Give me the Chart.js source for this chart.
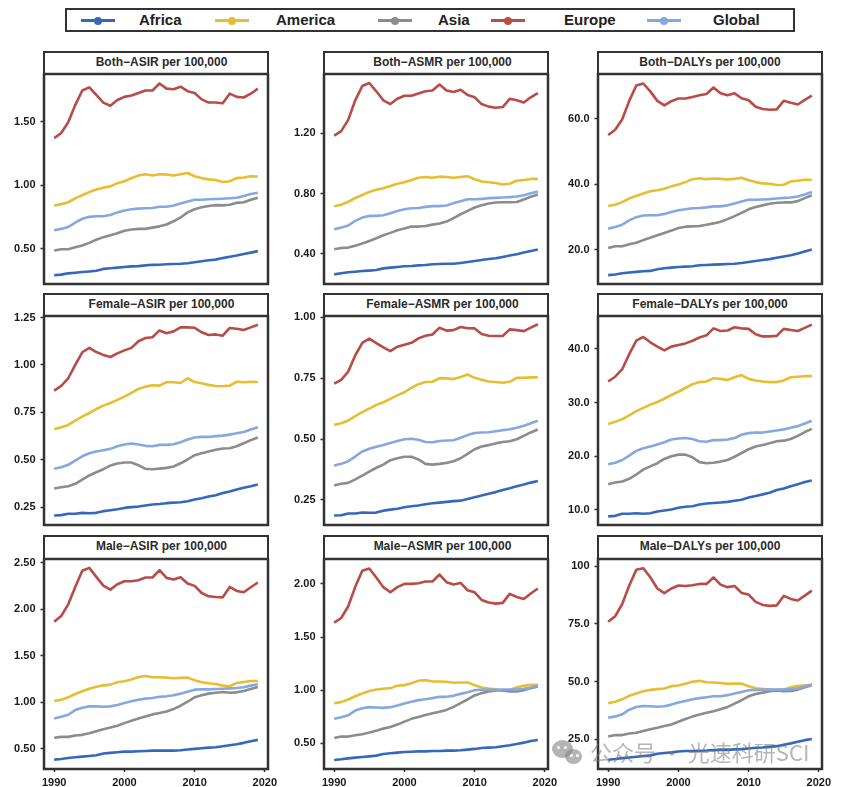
<!DOCTYPE html>
<html>
<head>
<meta charset="utf-8">
<title>Rates per 100,000 by region</title>
<script src="https://cdn.jsdelivr.net/npm/chart.js@4/dist/chart.umd.min.js"></script>
<style>
  html, body { margin: 0; padding: 0; background: #fff; overflow: hidden; }
  body { position: relative; width: 842px; height: 787px; font-family: "Liberation Sans", Arial, sans-serif; }
  canvas { position: absolute; }
  .strip { position: absolute; box-sizing: border-box; background: #fff; border: 2.5px solid #333; color: #2b2b2b;
           font-size: 12px; font-weight: bold; line-height: 18px; text-align: center; white-space: nowrap; }
  #legendBox { position: absolute; left: 65px; top: 8px; width: 730px; height: 24px; box-sizing: border-box; border: 2.5px solid #333; }
  .legendLine { position: absolute; top: 19px; width: 34px; height: 3px; }
  .legendDot { position: absolute; top: 16.5px; width: 8px; height: 8px; border-radius: 50%; }
  .legendText { position: absolute; top: 11px; font-size: 15px; font-weight: bold; line-height: 18px; color: #222; white-space: nowrap; }
  #mark { position: absolute; left: 590px; top: 738px; font-size: 22px; line-height: 27px; color: rgba(120,120,120,0.55); white-space: nowrap;
          font-family: "Noto Sans CJK SC", sans-serif; }
  .bubble { position: absolute; border-radius: 50%; background: rgba(130,130,130,0.6); }
  .eye { position: absolute; width: 3px; height: 3px; border-radius: 50%; background: #fff; }
</style>
</head>
<body>
<script>
// ===== DATA =====
const years = [1990,1991,1992,1993,1994,1995,1996,1997,1998,1999,2000,2001,2002,2003,2004,2005,2006,2007,2008,2009,2010,2011,2012,2013,2014,2015,2016,2017,2018,2019];
const seriesNames = ["Africa", "America", "Asia", "Europe", "Global"];
const xTicks = [1990, 2000, 2010, 2020];
const panelTitles = [
  "Both\u2212ASIR per 100,000", "Both\u2212ASMR per 100,000", "Both\u2212DALYs per 100,000",
  "Female\u2212ASIR per 100,000", "Female\u2212ASMR per 100,000", "Female\u2212DALYs per 100,000",
  "Male\u2212ASIR per 100,000", "Male\u2212ASMR per 100,000", "Male\u2212DALYs per 100,000"
];

// tick labels per panel
const bothAsirTicks = ["0.50", "1.00", "1.50"];
const bothAsmrTicks = ["0.40", "0.80", "1.20"];
const bothDalysTicks = ["20.0", "40.0", "60.0"];
const femaleAsirTicks = ["0.25", "0.50", "0.75", "1.00", "1.25"];
const femaleAsmrTicks = ["0.25", "0.50", "0.75", "1.00"];
const femaleDalysTicks = ["10.0", "20.0", "30.0", "40.0"];
const maleAsirTicks = ["0.50", "1.00", "1.50", "2.00", "2.50"];
const maleAsmrTicks = ["0.50", "1.00", "1.50", "2.00"];
const maleDalysTicks = ["25.0", "50.0", "75.0", "100"];

// y ranges per panel
const yMins = [0.221, 0.198, 9.6, 0.157, 0.147, 7.2, 0.284, 0.258, 12.1];
const yMaxs = [1.875, 1.595, 73.7, 1.258, 1.005, 46.1, 2.541, 2.234, 103.1];

// Both - ASIR
const bothAsirAfrica = [.29,.295,.305,.31,.315,.32,.325,.34,.345,.35,.355,.36,.362,.368,.372,.373,.377,.378,.38,.385,.393,.40,.408,.413,.425,.435,.445,.458,.468,.48];
const bothAsirAmerica = [.84,.85,.865,.895,.92,.945,.965,.98,.99,1.015,1.03,1.055,1.075,1.085,1.075,1.085,1.083,1.075,1.085,1.095,1.07,1.055,1.045,1.04,1.025,1.03,1.055,1.06,1.07,1.068];
const bothAsirAsia = [.485,.495,.495,.51,.525,.545,.57,.59,.605,.62,.64,.65,.655,.655,.665,.675,.69,.715,.745,.785,.81,.825,.835,.842,.84,.845,.86,.865,.885,.90];
const bothAsirEurope = [1.37,1.41,1.495,1.63,1.745,1.77,1.71,1.65,1.625,1.67,1.695,1.705,1.725,1.745,1.745,1.80,1.76,1.755,1.775,1.74,1.725,1.675,1.65,1.65,1.645,1.72,1.695,1.69,1.72,1.76];
const bothAsirGlobal = [.645,.655,.67,.705,.735,.75,.755,.755,.765,.785,.80,.81,.815,.818,.82,.83,.83,.84,.855,.87,.885,.885,.888,.89,.893,.897,.90,.915,.93,.94];

// Both - ASMR
const bothAsmrAfrica = [.262,.269,.276,.28,.284,.287,.291,.302,.307,.311,.316,.318,.322,.324,.329,.331,.333,.333,.338,.344,.351,.358,.364,.369,.378,.387,.396,.407,.418,.427];
const bothAsmrAmerica = [.715,.725,.745,.77,.79,.81,.825,.835,.85,.865,.875,.89,.905,.91,.905,.912,.91,.905,.91,.915,.895,.88,.875,.87,.86,.865,.885,.89,.897,.897];
const bothAsmrAsia = [.429,.438,.44,.453,.467,.484,.502,.522,.538,.556,.567,.58,.58,.584,.593,.60,.613,.636,.662,.684,.707,.722,.733,.74,.742,.742,.744,.76,.778,.793];
const bothAsmrEurope = [1.185,1.215,1.29,1.42,1.515,1.535,1.48,1.42,1.395,1.43,1.45,1.45,1.465,1.48,1.485,1.525,1.485,1.475,1.49,1.455,1.44,1.395,1.378,1.37,1.375,1.43,1.42,1.405,1.44,1.467];
const bothAsmrGlobal = [.562,.573,.587,.618,.64,.651,.651,.655,.669,.684,.695,.702,.704,.711,.716,.716,.72,.736,.749,.762,.762,.764,.769,.771,.773,.776,.78,.789,.802,.813];

// Both - DALYs
const bothDalysAfrica = [12.3,12.5,12.9,13.1,13.3,13.5,13.6,14.1,14.4,14.6,14.8,14.9,15,15.3,15.4,15.5,15.6,15.7,15.8,16,16.3,16.6,16.9,17.2,17.6,18,18.4,18.9,19.5,20.1];
const bothDalysAmerica = [33.4,33.8,34.6,35.7,36.5,37.2,37.9,38.2,38.7,39.4,40,40.7,41.6,41.9,41.6,41.8,41.7,41.5,41.7,42,41.3,40.7,40.3,40.2,39.8,39.9,40.9,41.1,41.4,41.4];
const bothDalysAsia = [20.6,21.1,21.1,21.7,22.2,23,23.7,24.5,25.2,25.9,26.7,27.1,27.2,27.3,27.7,28.1,28.6,29.4,30.3,31.3,32.4,33.1,33.6,34.1,34.4,34.5,34.5,34.9,35.8,36.7];
const bothDalysEurope = [55.1,56.7,59.9,65.5,70.2,70.8,68.4,65.5,64.1,65.4,66.2,66.2,66.7,67.2,67.6,69.6,67.8,67.2,67.8,66.3,65.7,63.7,63,62.8,62.9,65.5,64.9,64.4,65.8,67.1];
const bothDalysGlobal = [26.5,27,27.7,29,30,30.5,30.6,30.6,31,31.6,32.1,32.4,32.7,32.8,33,33.3,33.3,33.6,34.2,34.8,35.3,35.3,35.4,35.5,35.7,35.9,36,36.3,36.9,37.7];

// Female - ASIR
const femaleAsirAfrica = [.207,.209,.216,.216,.221,.219,.221,.23,.235,.24,.247,.251,.254,.26,.265,.268,.272,.275,.277,.282,.291,.298,.307,.314,.325,.333,.344,.353,.361,.37];
const femaleAsirAmerica = [.661,.672,.684,.707,.728,.747,.768,.786,.80,.816,.833,.853,.874,.886,.893,.891,.909,.909,.905,.93,.91,.904,.895,.889,.888,.891,.912,.909,.912,.91];
const femaleAsirAsia = [.349,.356,.361,.374,.396,.418,.435,.451,.47,.481,.486,.486,.472,.453,.451,.454,.458,.465,.482,.502,.525,.535,.544,.553,.56,.561,.572,.588,.604,.618];
const femaleAsirEurope = [.865,.89,.93,1.0,1.067,1.09,1.068,1.053,1.042,1.061,1.077,1.09,1.125,1.142,1.146,1.182,1.167,1.177,1.198,1.198,1.196,1.172,1.158,1.161,1.154,1.195,1.191,1.184,1.198,1.212];
const femaleAsirGlobal = [.453,.461,.474,.496,.519,.535,.544,.551,.558,.572,.581,.586,.581,.574,.572,.579,.579,.582,.593,.607,.618,.621,.621,.625,.628,.633,.64,.647,.66,.672];

// Female - ASMR
const femaleAsmrAfrica = [.186,.187,.194,.194,.198,.197,.198,.206,.21,.214,.22,.224,.227,.232,.236,.239,.242,.245,.247,.254,.261,.268,.275,.282,.291,.298,.306,.313,.321,.328];
const femaleAsmrAmerica = [.558,.565,.576,.594,.61,.625,.64,.651,.665,.679,.692,.71,.725,.734,.735,.75,.749,.746,.755,.765,.751,.743,.736,.734,.731,.735,.751,.751,.753,.753];
const femaleAsmrAsia = [.309,.316,.32,.334,.35,.366,.382,.395,.413,.421,.427,.427,.416,.398,.395,.398,.402,.409,.421,.439,.458,.469,.475,.482,.488,.491,.499,.513,.527,.539];
const femaleAsmrEurope = [.727,.743,.777,.843,.895,.912,.894,.876,.861,.879,.887,.895,.913,.924,.929,.957,.945,.947,.96,.955,.954,.931,.924,.923,.923,.95,.947,.943,.957,.971];
const femaleAsmrGlobal = [.391,.398,.409,.428,.449,.46,.468,.475,.484,.492,.499,.501,.497,.488,.487,.492,.494,.495,.505,.516,.525,.527,.528,.532,.536,.54,.546,.554,.565,.575];

// Female - DALYs
const femaleDalysAfrica = [8.8,8.9,9.3,9.3,9.4,9.3,9.4,9.7,9.9,10.1,10.4,10.6,10.7,11,11.2,11.3,11.4,11.5,11.7,11.9,12.3,12.6,12.9,13.2,13.7,14,14.4,14.8,15.2,15.5];
const femaleDalysAmerica = [26,26.4,26.9,27.6,28.4,29,29.6,30.1,30.7,31.4,32,32.7,33.4,33.8,33.9,34.5,34.4,34.2,34.7,35.1,34.4,34.1,33.9,33.8,33.8,34.1,34.7,34.8,34.9,34.9];
const femaleDalysAsia = [14.8,15.1,15.3,15.8,16.6,17.5,18.1,18.7,19.5,20,20.3,20.3,19.8,18.9,18.7,18.8,19,19.3,19.9,20.6,21.3,21.8,22.1,22.4,22.8,22.9,23.2,23.8,24.5,25.1];
const femaleDalysEurope = [33.9,34.8,36.2,39,41.5,42.2,41.2,40.4,39.7,40.4,40.7,41,41.5,42.1,42.5,43.8,43.3,43.4,44,43.8,43.7,42.7,42.3,42.3,42.4,43.7,43.5,43.3,43.9,44.5];
const femaleDalysGlobal = [18.5,18.8,19.3,20.1,21,21.5,21.8,22.2,22.6,23.1,23.3,23.4,23.2,22.8,22.7,23,23,23.1,23.4,24,24.3,24.4,24.4,24.6,24.8,25,25.3,25.6,26.1,26.6];

// Male - ASIR
const maleAsirAfrica = [.385,.392,.403,.41,.417,.424,.432,.45,.457,.464,.471,.471,.475,.478,.482,.482,.482,.482,.486,.493,.50,.507,.514,.518,.529,.54,.55,.565,.583,.597];
const maleAsirAmerica = [1.014,1.029,1.054,1.09,1.119,1.147,1.169,1.183,1.191,1.216,1.227,1.245,1.273,1.284,1.27,1.27,1.266,1.259,1.263,1.266,1.237,1.216,1.205,1.198,1.18,1.173,1.209,1.219,1.23,1.23];
const maleAsirAsia = [.619,.629,.629,.644,.651,.669,.691,.712,.73,.748,.777,.802,.827,.849,.871,.885,.903,.928,.964,1.007,1.054,1.076,1.094,1.104,1.112,1.104,1.108,1.122,1.144,1.165];
const maleAsirEurope = [1.867,1.928,2.054,2.241,2.414,2.446,2.349,2.255,2.212,2.27,2.302,2.302,2.313,2.342,2.342,2.421,2.338,2.32,2.345,2.277,2.252,2.176,2.14,2.133,2.129,2.241,2.198,2.183,2.237,2.288];
const maleAsirGlobal = [.827,.845,.867,.917,.942,.957,.957,.953,.957,.971,.993,1.011,1.029,1.04,1.047,1.061,1.065,1.076,1.094,1.115,1.137,1.14,1.14,1.144,1.147,1.151,1.155,1.162,1.18,1.194];

// Male - ASMR
const maleAsmrAfrica = [.343,.349,.358,.365,.371,.377,.384,.399,.406,.412,.418,.421,.424,.424,.428,.428,.431,.431,.434,.44,.447,.456,.459,.462,.472,.481,.494,.506,.522,.531];
const maleAsmrAmerica = [.877,.887,.912,.943,.969,.991,1.006,1.013,1.019,1.041,1.047,1.066,1.088,1.094,1.082,1.082,1.079,1.069,1.072,1.072,1.047,1.025,1.016,1.009,.997,1.0,1.028,1.041,1.05,1.05];
const maleAsmrAsia = [.55,.563,.563,.575,.585,.601,.619,.638,.654,.676,.704,.73,.748,.767,.783,.796,.814,.843,.877,.912,.95,.972,.987,.997,.997,.987,.987,1.0,1.019,1.035];
const maleAsmrEurope = [1.635,1.679,1.789,1.972,2.123,2.145,2.06,1.969,1.921,1.969,2.0,2.0,2.006,2.022,2.022,2.088,2.016,1.994,2.009,1.94,1.921,1.849,1.824,1.814,1.821,1.906,1.877,1.858,1.909,1.956];
const maleAsmrGlobal = [.73,.745,.764,.808,.83,.84,.836,.833,.84,.855,.874,.89,.906,.915,.925,.937,.937,.947,.965,.981,1.0,1.003,1.003,1.003,1.006,1.006,1.006,1.013,1.025,1.041];

// Male - DALYs
const maleDalysAfrica = [16.1,16.4,16.8,17.1,17.4,17.7,18,18.7,19,19.3,19.7,19.9,19.9,20,20.1,20.3,20.4,20.4,20.6,20.7,21,21.3,21.4,21.7,22,22.6,23.2,23.9,24.6,25.1];
const maleDalysAmerica = [40.6,41.2,42.3,43.8,44.8,45.8,46.4,46.7,47,48,48.3,49,49.9,50.3,49.7,49.6,49.4,49,49.1,49.1,48,47.1,46.8,46.5,46.4,46.5,47.5,48,48.4,48.6];
const maleDalysAsia = [26.2,26.8,26.8,27.5,27.8,28.6,29.3,30,30.7,31.4,32.6,33.8,34.8,35.7,36.5,37.1,38,39,40.4,41.9,43.6,44.6,45.2,45.8,46.1,45.8,45.9,46.5,47.5,48.4];
const maleDalysEurope = [75.9,78.3,83.6,91.6,98.4,99.1,95.2,90.3,88.3,90.3,91.6,91.4,91.7,92.3,92.3,95.1,92,90.9,91.4,88.4,87.7,84.5,83.2,82.8,83,87.1,85.8,85.1,87.2,89.4];
const maleDalysGlobal = [34.3,34.9,35.8,37.8,39,39.4,39.3,39.1,39.3,40,40.9,41.6,42.3,42.8,43.2,43.6,43.6,44.1,44.8,45.5,46.2,46.4,46.4,46.5,46.5,46.5,46.7,47.1,47.8,48.6];

const panelTicks = [bothAsirTicks, bothAsmrTicks, bothDalysTicks, femaleAsirTicks, femaleAsmrTicks, femaleDalysTicks, maleAsirTicks, maleAsmrTicks, maleDalysTicks];
const panelSeries = [
  [bothAsirAfrica, bothAsirAmerica, bothAsirAsia, bothAsirEurope, bothAsirGlobal],
  [bothAsmrAfrica, bothAsmrAmerica, bothAsmrAsia, bothAsmrEurope, bothAsmrGlobal],
  [bothDalysAfrica, bothDalysAmerica, bothDalysAsia, bothDalysEurope, bothDalysGlobal],
  [femaleAsirAfrica, femaleAsirAmerica, femaleAsirAsia, femaleAsirEurope, femaleAsirGlobal],
  [femaleAsmrAfrica, femaleAsmrAmerica, femaleAsmrAsia, femaleAsmrEurope, femaleAsmrGlobal],
  [femaleDalysAfrica, femaleDalysAmerica, femaleDalysAsia, femaleDalysEurope, femaleDalysGlobal],
  [maleAsirAfrica, maleAsirAmerica, maleAsirAsia, maleAsirEurope, maleAsirGlobal],
  [maleAsmrAfrica, maleAsmrAmerica, maleAsmrAsia, maleAsmrEurope, maleAsmrGlobal],
  [maleDalysAfrica, maleDalysAmerica, maleDalysAsia, maleDalysEurope, maleDalysGlobal]
];

// ===== STYLE / LAYOUT =====
const seriesColors = ["#3568BD", "#E6BE32", "#8C8C8C", "#B84C47", "#86A8E0"];
const frameColor = "#333333";
const tickFont = { family: "'Liberation Sans', Arial, sans-serif", size: 11, weight: "bold" };
const colLeft = [43.5, 323.5, 598];
const rowTop = [73.5, 315.5, 558.5];
const rowBottom = [283, 524, 768];
const stripTop = [51, 293, 535];
const stripShift = [12, 14, 0]; // titles sit a bit right of centre in the first two columns
const panelWidth = 224;
const axisWidth = 44;
const padTop = 8, padRight = 12, padBottom = 8, xAxisHeight = 19;
const legendKeyX = [81, 215, 378, 491, 647];
const legendTextX = [139, 276, 438, 564, 713];

// ===== LEGEND =====
function addEl(cls, left, text) {
  const el = document.createElement("div");
  el.className = cls;
  if (left !== null) el.style.left = left + "px";
  if (text) el.textContent = text;
  document.body.appendChild(el);
  return el;
}

const legendBox = document.createElement("div");
legendBox.id = "legendBox";
document.body.appendChild(legendBox);
seriesNames.forEach((name, i) => {
  addEl("legendLine", legendKeyX[i]).style.background = seriesColors[i];
  addEl("legendDot", legendKeyX[i] + 13).style.background = seriesColors[i];
  addEl("legendText", legendTextX[i], name);
});

// ===== PANEL FRAME =====
const panelFrame = {
  id: "panelFrame",
  afterDraw(chart) {
    const { ctx, chartArea: a } = chart;
    ctx.save();
    ctx.strokeStyle = frameColor;
    ctx.lineWidth = 2.5;
    ctx.strokeRect(a.left, a.top, a.right - a.left, a.bottom - a.top);
    ctx.restore();
  }
};

// ===== CHARTS =====
function drawPanel(index) {
  const col = index % 3;
  const row = Math.floor(index / 3);
  const isBottom = row === 2;
  const labels = panelTicks[index];

  const strip = addEl("strip", colLeft[col] - 1, panelTitles[index]);
  strip.style.top = stripTop[row] + "px";
  strip.style.width = panelWidth + 2 + "px";
  strip.style.height = rowTop[row] - stripTop[row] + 1 + "px";
  strip.style.paddingLeft = stripShift[col] + "px";

  const canvas = document.createElement("canvas");
  const areaHeight = Math.round(rowBottom[row] - rowTop[row]);
  canvas.width = axisWidth + panelWidth + padRight;
  canvas.height = areaHeight + padTop + (isBottom ? xAxisHeight : padBottom);
  canvas.style.left = colLeft[col] - axisWidth + "px";
  canvas.style.top = rowTop[row] - padTop + "px";
  document.body.appendChild(canvas);

  new Chart(canvas, {
    type: "line",
    data: {
      labels: years,
      datasets: seriesNames.map((name, i) => ({
        label: name,
        data: panelSeries[index][i],
        borderColor: seriesColors[i],
        backgroundColor: seriesColors[i],
        borderWidth: 2.6,
        pointRadius: 0,
        tension: 0,
        borderJoinStyle: "round",
        order: seriesNames.length - i
      }))
    },
    options: {
      responsive: false,
      animation: false,
      layout: { padding: { top: padTop, right: padRight, bottom: isBottom ? 0 : padBottom, left: 0 } },
      plugins: { legend: { display: false }, title: { display: false }, tooltip: { enabled: false } },
      scales: {
        x: {
          type: "linear",
          min: 1988.55,
          max: 2020.45,
          display: isBottom,
          grid: { drawOnChartArea: false, drawTicks: true, tickLength: 3, tickWidth: 1.5, tickColor: frameColor },
          border: { display: false },
          afterBuildTicks: s => { s.ticks = xTicks.map(v => ({ value: v })); },
          afterFit: s => {
            if (isBottom) s.height = xAxisHeight;
            s.paddingLeft = 0;
            s.paddingRight = 0;
          },
          ticks: { font: tickFont, color: "#1a1a1a", padding: 4, autoSkip: false, maxRotation: 0, callback: v => String(v) }
        },
        y: {
          min: yMins[index],
          max: yMaxs[index],
          grid: { drawOnChartArea: false, drawTicks: true, tickLength: 3.5, tickWidth: 1.5, tickColor: frameColor },
          border: { display: false },
          afterBuildTicks: s => { s.ticks = labels.map(l => ({ value: Number(l) })); },
          afterFit: s => {
            s.width = axisWidth;
            s.paddingTop = 0;
            s.paddingBottom = 0;
          },
          ticks: { font: tickFont, color: "#1a1a1a", padding: 5, autoSkip: false, callback: v => labels.find(l => Number(l) === v) }
        }
      }
    },
    plugins: [panelFrame]
  });
}

panelTitles.forEach((t, i) => drawPanel(i));

// ===== WATERMARK =====
[[552, 740, 21, 18], [565, 749, 17, 15]].forEach(b => {
  const el = addEl("bubble", b[0]);
  el.style.top = b[1] + "px";
  el.style.width = b[2] + "px";
  el.style.height = b[3] + "px";
});
[[557, 746], [564, 746], [570, 754], [576, 754]].forEach(p => {
  addEl("eye", p[0]).style.top = p[1] + "px";
});
const mark = document.createElement("div");
mark.id = "mark";
mark.textContent = "公众号 · 光速科研SCI";
document.body.appendChild(mark);
</script>
</body>
</html>
